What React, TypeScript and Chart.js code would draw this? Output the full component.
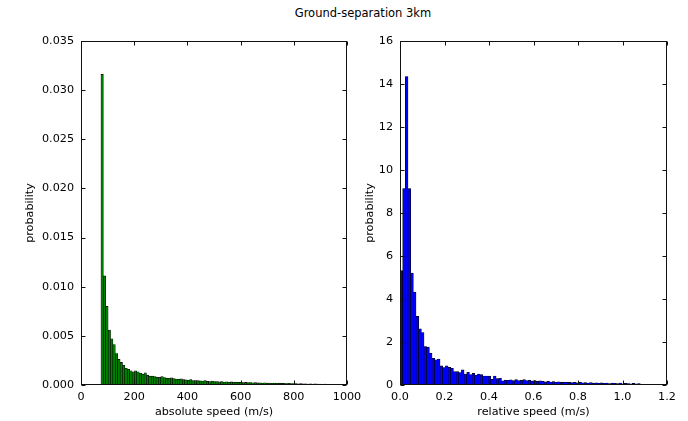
import React, { useEffect, useRef } from "react";
import { Chart, registerables } from "chart.js";

Chart.register(...registerables);

const titleText = "Ground-separation 3km";

// Left histogram: absolute speed (m/s)
const leftBinStart = 75;
const leftBinWidth = 9;
const leftValues = [
  0.0316, 0.0111, 0.0080, 0.0056, 0.0047, 0.0041, 0.0032, 0.0026, 0.0023, 0.0020,
  0.0017, 0.0016, 0.00145, 0.00135, 0.00145, 0.00135, 0.0012, 0.0011, 0.00125, 0.0010,
  0.0009, 0.0009, 0.00085, 0.0008, 0.00078, 0.00085, 0.00075, 0.0007, 0.00068, 0.00074,
  0.00065, 0.0006, 0.00058, 0.00064, 0.00056, 0.00052, 0.00048, 0.00054, 0.00046, 0.00044,
  0.00046, 0.00042, 0.0004, 0.00044, 0.00038, 0.00036, 0.0004, 0.00034, 0.00036, 0.00032,
  0.00034, 0.0003, 0.00032, 0.00028, 0.00031, 0.00027, 0.00029, 0.00026, 0.00028, 0.00025,
  0.00026, 0.00024, 0.00025, 0.00022, 0.00024, 0.00021, 0.00023, 0.0002, 0.00022, 0.00019,
  0.0002, 0.00018, 0.0002, 0.00017, 0.00019, 0.00016, 0.00018, 0.00015, 0.00017, 0.00015,
  0.00014, 0.00015, 0.00012, 0.00014, 0.00011, 0.00013, 0.0001, 0.00012, 0.00009, 0.00011,
  0.00009, 0.0001, 0.00008, 0.00009, 0.00007, 0.00008, 0.00006, 0.00008, 0.00006, 0.00007,
];
const leftXTicks = [0, 200, 400, 600, 800, 1000];
const leftYTicks = [0, 0.005, 0.01, 0.015, 0.02, 0.025, 0.03, 0.035];

// Right histogram: relative speed (m/s)
const rightBinStart = 0;
const rightBinWidth = 0.012;
const rightValues = [
  5.32, 9.14, 14.35, 9.14, 5.2, 4.32, 3.19, 2.61, 2.44, 1.79,
  1.76, 1.48, 1.24, 1.17, 1.21, 0.89, 0.81, 0.89, 0.82, 0.78,
  0.62, 0.62, 0.58, 0.70, 0.51, 0.59, 0.48, 0.54, 0.45, 0.51,
  0.48, 0.42, 0.42, 0.42, 0.26, 0.42, 0.30, 0.31, 0.19, 0.23,
  0.22, 0.24, 0.21, 0.25, 0.20, 0.22, 0.25, 0.20, 0.22, 0.18,
  0.21, 0.17, 0.19, 0.17, 0.15, 0.17, 0.14, 0.16, 0.13, 0.15,
  0.12, 0.14, 0.12, 0.13, 0.11, 0.12, 0.10, 0.12, 0.10, 0.11,
  0.09, 0.11, 0.09, 0.10, 0.08, 0.10, 0.08, 0.09, 0.07, 0.09,
  0.08, 0.07, 0.09, 0.06, 0.08, 0.07, 0.06, 0.08, 0.06, 0.07,
];
const rightXTicks = [0, 0.2, 0.4, 0.6, 0.8, 1.0, 1.2];
const rightYTicks = [0, 2, 4, 6, 8, 10, 12, 14, 16];

const FONT = "'DejaVu Sans', sans-serif";
const W = 688;
const H = 421;

const frameTicks = {
  id: "frameTicks",
  afterDraw(chart: any) {
    const { ctx, chartArea: a, scales } = chart;
    const L = Math.round(a.left) + 0.5;
    const R = Math.round(a.right) - 0.5;
    const T = Math.round(a.top) + 0.5;
    const B = Math.round(a.bottom) - 0.5;
    ctx.save();
    ctx.strokeStyle = "#111";
    ctx.lineWidth = 1;
    ctx.strokeRect(L, T, R - L, B - T);
    const len = 4;
    ctx.beginPath();
    scales.x.ticks.forEach((t: any) => {
      const px = Math.round(scales.x.getPixelForValue(t.value)) + 0.5;
      ctx.moveTo(px, B);
      ctx.lineTo(px, B - len);
      ctx.moveTo(px, T);
      ctx.lineTo(px, T + len);
    });
    scales.y.ticks.forEach((t: any) => {
      const py = Math.round(scales.y.getPixelForValue(t.value)) + 0.5;
      ctx.moveTo(L, py);
      ctx.lineTo(L + len, py);
      ctx.moveTo(R, py);
      ctx.lineTo(R - len, py);
    });
    ctx.stroke();
    ctx.restore();
  },
};

function makeConfig(o: {
  values: number[];
  binStart: number;
  binWidth: number;
  color: string;
  xTicks: number[];
  yTicks: number[];
  xMin: number;
  xMax: number;
  yMax: number;
  xDecimals: number;
  yDecimals: number;
  xTitle: string;
  yTitle: string;
  padLeft: number;
  padRight: number;
  yWidth: number;
}) {
  return {
    type: "bar" as const,
    data: {
      datasets: [
        {
          data: o.values.map((v, i) => ({ x: o.binStart + o.binWidth * (i + 0.5), y: v })),
          backgroundColor: o.color,
          borderColor: "#000",
          borderWidth: 0.6,
          barPercentage: 1,
          categoryPercentage: 1,
        },
      ],
    },
    options: {
      responsive: false,
      animation: false as const,
      devicePixelRatio: 1,
      layout: { padding: { left: o.padLeft, right: o.padRight, top: 41, bottom: 0 } },
      plugins: { legend: { display: false }, tooltip: { enabled: false }, title: { display: false } },
      scales: {
        x: {
          type: "linear" as const,
          min: o.xMin,
          max: o.xMax,
          offset: false,
          grid: { display: false, drawTicks: false, offset: false },
          border: { display: false },
          afterBuildTicks: (s: any) => {
            s.ticks = o.xTicks.map((v) => ({ value: v }));
          },
          afterFit: (s: any) => {
            s.height = 36;
          },
          ticks: {
            color: "#000",
            padding: 5,
            maxRotation: 0,
            font: { family: FONT, size: 11.2 },
            callback: (v: any) => Number(v).toFixed(o.xDecimals),
          },
          title: {
            display: true,
            text: o.xTitle,
            color: "#000",
            font: { family: FONT, size: 11.2 },
            padding: { top: 0, bottom: 2.5 },
          },
        },
        y: {
          type: "linear" as const,
          min: 0,
          max: o.yMax,
          grid: { display: false, drawTicks: false },
          border: { display: false },
          afterBuildTicks: (s: any) => {
            s.ticks = o.yTicks.map((v) => ({ value: v }));
          },
          afterFit: (s: any) => {
            s.width = o.yWidth;
          },
          ticks: {
            color: "#000",
            padding: 7,
            font: { family: FONT, size: 11.2 },
            callback: (v: any) => Number(v).toFixed(o.yDecimals),
          },
          title: {
            display: true,
            text: o.yTitle,
            color: "#000",
            font: { family: FONT, size: 11.2 },
            padding: { top: 23.4, bottom: 0 },
          },
        },
      },
    },
    plugins: [frameTicks],
  };
}

export default function App() {
  const leftRef = useRef<HTMLCanvasElement>(null);
  const rightRef = useRef<HTMLCanvasElement>(null);

  useEffect(() => {
    const left = new Chart(
      leftRef.current as HTMLCanvasElement,
      makeConfig({
        values: leftValues,
        binStart: leftBinStart,
        binWidth: leftBinWidth,
        color: "#008000",
        xTicks: leftXTicks,
        yTicks: leftYTicks,
        xMin: 0,
        xMax: 1000,
        yMax: 0.035,
        xDecimals: 0,
        yDecimals: 3,
        xTitle: "absolute speed (m/s)",
        yTitle: "probability",
        padLeft: 0,
        padRight: W - 347,
        yWidth: 81,
      }) as any
    );
    const right = new Chart(
      rightRef.current as HTMLCanvasElement,
      makeConfig({
        values: rightValues,
        binStart: rightBinStart,
        binWidth: rightBinWidth,
        color: "#0000ff",
        xTicks: rightXTicks,
        yTicks: rightYTicks,
        xMin: 0,
        xMax: 1.2,
        yMax: 16,
        xDecimals: 1,
        yDecimals: 0,
        xTitle: "relative speed (m/s)",
        yTitle: "probability",
        padLeft: 340,
        padRight: W - 667,
        yWidth: 60,
      }) as any
    );
    return () => {
      left.destroy();
      right.destroy();
    };
  }, []);

  return (
    <div style={{ position: "fixed", left: 0, top: 0, width: W, height: H, background: "#fff" }}>
      <div
        style={{
          position: "absolute",
          left: 19,
          top: 6,
          width: W,
          textAlign: "center",
          fontFamily: FONT,
          fontSize: "11.5px",
          lineHeight: "14px",
          color: "#000",
        }}
      >
        {titleText}
      </div>
      <canvas ref={leftRef} width={W} height={H} style={{ position: "absolute", left: 0, top: 0 }} />
      <canvas ref={rightRef} width={W} height={H} style={{ position: "absolute", left: 0, top: 0 }} />
    </div>
  );
}
